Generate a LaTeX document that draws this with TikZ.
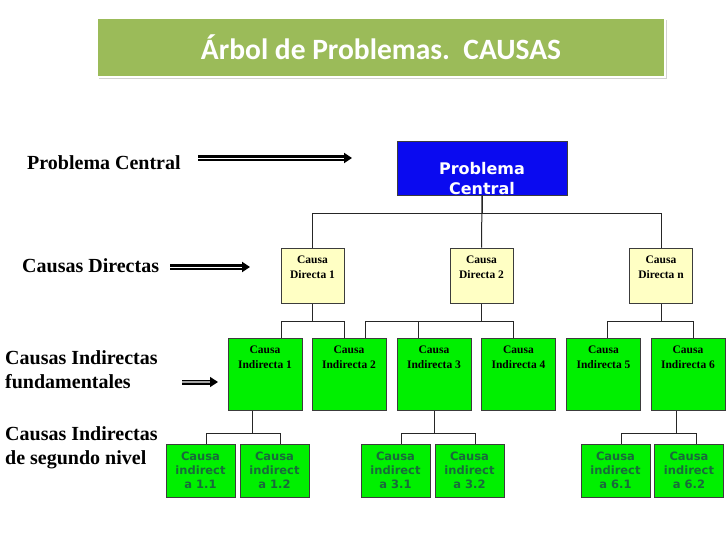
\documentclass[tikz,border=0pt]{standalone}
\usepackage{fontspec}
\setmainfont{Liberation Serif}
\newfontfamily\titlefont{Carlito}
\newfontfamily\boxfont{DejaVu Sans}
\usepackage{xcolor}
\usepackage{tikz}
\usetikzlibrary{arrows.meta, positioning}
\usetikzlibrary{shadows}

\definecolor{bannergreen}{RGB}{155,187,89}
\definecolor{pcblue}{RGB}{10,10,240}
\definecolor{dyellow}{RGB}{255,255,196}
\definecolor{igreen}{RGB}{0,240,0}
\definecolor{ctext}{RGB}{25,105,60}
\definecolor{edgegray}{RGB}{60,60,60}

\tikzset{
  banner/.style={fill=bannergreen, draw=white, line width=1.5pt, minimum width=568pt, minimum height=59pt,
    drop shadow={shadow xshift=1.5pt, shadow yshift=-2pt, opacity=0.35},
    text=white, font=\titlefont\bfseries\fontsize{29.5}{35}\selectfont},
  pcbox/.style={draw=edgegray, fill=pcblue, line width=1pt, minimum width=170pt, minimum height=54pt, inner sep=0pt},
  dbox/.style={draw=edgegray, fill=dyellow, line width=1pt, minimum width=63pt, minimum height=55pt, inner sep=0pt},
  ibox/.style={draw=edgegray, fill=igreen, line width=1pt, minimum width=74pt, minimum height=72pt, inner sep=0pt},
  cbox/.style={draw=edgegray, fill=igreen, line width=1pt, minimum width=69pt, minimum height=53pt, inner sep=0pt,
    align=center, text=ctext, font=\boxfont\bfseries\fontsize{11.5}{14}\selectfont},
  boxtxt/.style={anchor=north, align=center, inner sep=0pt, yshift=-8pt, font=\bfseries\fontsize{11.5}{15}\selectfont},
  pctxt/.style={anchor=north, align=center, inner sep=0pt, yshift=-22pt, text=white,
    font=\boxfont\bfseries\fontsize{16}{19.5}\selectfont},
  lbl/.style={inner sep=0pt, align=left, font=\bfseries\fontsize{20}{24}\selectfont},
  conn/.style={draw=black!85, line width=1pt},
  bigarrow/.style={double=white, double distance=1pt, line width=2.2pt, -{Triangle[length=8pt, width=10pt]}},
  grayarrow/.style={double=gray!70, double distance=2.4pt, line width=1.3pt, -{Triangle[length=8pt, width=10pt]}}
}

\begin{document}
\begin{tikzpicture}[x=1pt, y=-1pt]
\fill[white] (0,0) rectangle (728,546);
\useasboundingbox (0,0) rectangle (728,546);

\node[banner] (title) at (381,47.5) {Árbol de Problemas.\ \ CAUSAS};

\node[pcbox, label={[pctxt]north:{Problema\\Central}}] (pc) at (482,168) {};
\node[dbox, label={[boxtxt]north:{Causa\\Directa 1}}] (d1) at (312.5,275.5) {};
\node[dbox, label={[boxtxt]north:{Causa\\Directa 2}}] (d2) at (481.5,275.5) {};
\node[dbox, label={[boxtxt]north:{Causa\\Directa n}}] (dn) at (661,275.5) {};

\node[ibox, label={[boxtxt]north:{Causa\\Indirecta 1}}] (i1) at (265,374) {};
\node[ibox, label={[boxtxt]north:{Causa\\Indirecta 2}}] (i2) at (349,374) {};
\node[ibox, label={[boxtxt]north:{Causa\\Indirecta 3}}] (i3) at (434,374) {};
\node[ibox, label={[boxtxt]north:{Causa\\Indirecta 4}}] (i4) at (518.5,374) {};
\node[ibox, label={[boxtxt]north:{Causa\\Indirecta 5}}] (i5) at (603.5,374) {};
\node[ibox, label={[boxtxt]north:{Causa\\Indirecta 6}}] (i6) at (688,374) {};

\node[cbox] (c11) at (200.5,470.5) {Causa\\indirect\\a 1.1};
\node[cbox] (c12) at (274.5,470.5) {Causa\\indirect\\a 1.2};
\node[cbox] (c31) at (395.5,470.5) {Causa\\indirect\\a 3.1};
\node[cbox] (c32) at (469.5,470.5) {Causa\\indirect\\a 3.2};
\node[cbox] (c61) at (615.5,470.5) {Causa\\indirect\\a 6.1};
\node[cbox] (c62) at (689,470.5) {Causa\\indirect\\a 6.2};

\draw[conn] (pc.south) -- ++(0,18) -| (d1.north);
\draw[conn] (pc.south) -- ++(0,18) -| (dn.north);
\draw[conn] (pc.south) -- (d2.north);

\draw[conn] (d1.south) -- ++(0,18) -| ([xshift=16pt]i1.north);
\draw[conn] (d1.south) -- ++(0,18) -| ([xshift=-5pt]i2.north);
\draw[conn] (d2.south) -- ++(0,18) -| ([xshift=16pt]i2.north);
\draw[conn] (d2.south) -- ++(0,18) -| ([xshift=-16pt]i3.north);
\draw[conn] (d2.south) -- ++(0,18) -| ([xshift=-5pt]i4.north);
\draw[conn] (dn.south) -- ++(0,18) -| ([xshift=4pt]i5.north);
\draw[conn] (dn.south) -- ++(0,18) -| ([xshift=5pt]i6.north);

\draw[conn] ([xshift=-13pt]i1.south) -- ++(0,23) -| ([xshift=6pt]c11.north);
\draw[conn] ([xshift=-13pt]i1.south) -- ++(0,23) -| ([xshift=6pt]c12.north);
\draw[conn] (i3.south) -- ++(0,23) -| ([xshift=6pt]c31.north);
\draw[conn] (i3.south) -- ++(0,23) -| ([xshift=6pt]c32.north);
\draw[conn] ([xshift=-12pt]i6.south) -- ++(0,23) -| ([xshift=6pt]c61.north);
\draw[conn] ([xshift=-12pt]i6.south) -- ++(0,23) -| ([xshift=7pt]c62.north);

\node[lbl, anchor=base west] (lpc) at (27,169) {Problema Central};
\node[lbl, anchor=base west] (lcd) at (22,272) {Causas Directas};
\node[lbl, anchor=north west] (lci) at (5,350) {Causas Indirectas\\fundamentales};
\node[lbl, anchor=north west] (lcs) at (5,426) {Causas Indirectas\\de segundo nivel};

\coordinate (a1s) at (198,158);
\coordinate (a1e) at (352,158);
\coordinate (a2s) at (170,267);
\coordinate (a2e) at (250,267);
\coordinate (a3s) at (182,382);
\coordinate (a3e) at (218,382);
\draw[bigarrow] (a1s) -- (a1e);
\draw[bigarrow] (a2s) -- (a2e);
\draw[grayarrow] (a3s) -- (a3e);
\end{tikzpicture}
\end{document}
